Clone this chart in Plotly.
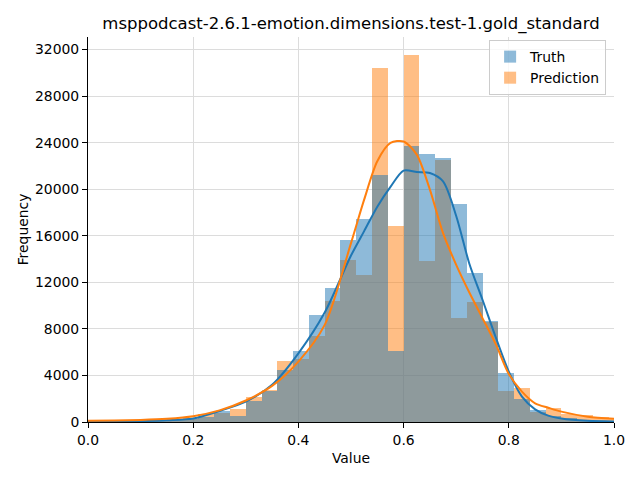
import plotly.graph_objects as go

# Histogram bins (width 0.03, left edges at multiples of 0.03)
bin_width = 0.03
bin_left = [round(0.03 * k, 2) for k in range(34)]

truth_counts = [20, 30, 50, 80, 120, 180, 300, 460, 950, 520,
                1820, 2650, 4470, 6100, 9200, 11500, 15600, 17400, 21200, 6100,
                23700, 23000, 22700, 18700, 12800, 8700, 4200, 2000, 1000, 500,
                330, 150, 70, 30]
pred_counts = [110, 60, 80, 110, 150, 220, 330, 690, 800, 1090,
               2150, 2750, 5250, 5450, 7400, 10400, 13900, 12600, 30400, 16800,
               31500, 13800, 22500, 8900, 10300, 8600, 2700, 2950, 850, 1190,
               700, 600, 450, 280]

# KDE curves (scaled to counts)
kde_x = [0.0, 0.05, 0.1, 0.15, 0.2, 0.25, 0.3, 0.35, 0.4, 0.45, 0.5, 0.525,
         0.55, 0.575, 0.6, 0.625, 0.65, 0.675, 0.7, 0.725, 0.75, 0.775, 0.8,
         0.825, 0.85, 0.875, 0.9, 0.95, 1.0]
truth_kde = [10, 30, 70, 150, 300, 950, 1750, 3200, 5900, 9400, 14300, 16400,
             18500, 20200, 21600, 21480, 21390, 20670, 17700, 13600, 10500, 7300, 4330,
             2180, 1090, 550, 300, 100, 40]
pred_kde = [100, 130, 180, 280, 500, 1000, 1850, 3100, 5190, 8340, 15370, 19100,
            22400, 23970, 24100, 22970, 19960, 16230, 13500, 11120, 8920, 6710, 4130,
            2610, 1610, 1230, 890, 460, 280]

y_ticks = [0, 4000, 8000, 12000, 16000, 20000, 24000, 28000, 32000]
y_tick_labels = [str(v) for v in y_ticks]
x_ticks = [0.0, 0.2, 0.4, 0.6, 0.8, 1.0]
x_tick_labels = ["0.0", "0.2", "0.4", "0.6", "0.8", "1.0"]

blue = "#1f77b4"
orange = "#ff7f0e"
centers = [l + bin_width / 2 for l in bin_left]

fig = go.Figure()
fig.add_trace(go.Bar(x=centers, y=pred_counts, width=bin_width, name="Prediction",
                     marker=dict(color=orange, line=dict(width=0)), opacity=0.5,
                     legendrank=2))
fig.add_trace(go.Bar(x=centers, y=truth_counts, width=bin_width, name="Truth",
                     marker=dict(color=blue, line=dict(width=0)), opacity=0.5,
                     legendrank=1))
fig.add_trace(go.Scatter(x=kde_x, y=truth_kde, mode="lines", showlegend=False,
                         line=dict(color=blue, width=2, shape="spline", smoothing=0.8)))
fig.add_trace(go.Scatter(x=kde_x, y=pred_kde, mode="lines", showlegend=False,
                         line=dict(color=orange, width=2, shape="spline", smoothing=0.8)))

font = "DejaVu Sans, sans-serif"
fig.update_layout(
    width=640, height=480,
    margin=dict(l=88, r=26, t=37, b=58),
    paper_bgcolor="white", plot_bgcolor="white",
    barmode="overlay", bargap=0,
    font=dict(family=font, size=13.9, color="black"),
    title=dict(text="msppodcast-2.6.1-emotion.dimensions.test-1.gold_standard",
               x=0.5, xref="paper", xanchor="center",
               y=1 - 23 / 480, yref="container", yanchor="middle",
               font=dict(family=font, size=16.5, color="black")),
    legend=dict(x=0.985, y=0.992, xanchor="right", yanchor="top",
                bgcolor="rgba(255,255,255,0.8)", bordercolor="#cccccc", borderwidth=1,
                font=dict(family=font, size=13.9, color="black")),
    xaxis=dict(range=[0, 1], tickvals=x_ticks, ticktext=x_tick_labels,
               showgrid=True, gridcolor="#dcdcdc", gridwidth=0.8,
               zeroline=False, showline=True, linecolor="black", linewidth=1,
               ticks="outside", ticklen=5, tickcolor="black", tickwidth=1,
               title=dict(text="Value", font=dict(family=font, size=13.9), standoff=6)),
    yaxis=dict(range=[0, 33075], tickvals=y_ticks, ticktext=y_tick_labels,
               showgrid=True, gridcolor="#dcdcdc", gridwidth=0.8,
               zeroline=False, showline=True, linecolor="black", linewidth=1,
               ticks="outside", ticklen=5, tickcolor="black", tickwidth=1,
               title=dict(text="Frequency", font=dict(family=font, size=13.9), standoff=3)),
)

fig.write_html("out.html")
